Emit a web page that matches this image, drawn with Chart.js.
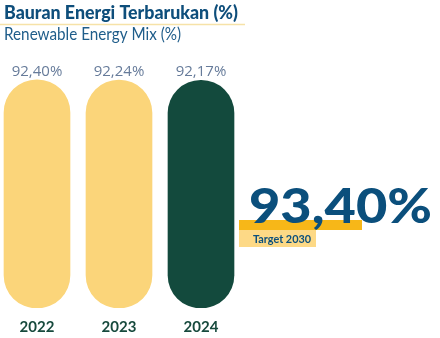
<!DOCTYPE html>
<html>
<head>
<meta charset="utf-8">
<script src="https://cdn.jsdelivr.net/npm/chart.js@4.4.1/dist/chart.umd.min.js"></script>
<style>
  html, body { margin: 0; padding: 0; background: #fff; overflow: hidden; }
  #wrap { width: 444px; height: 338px; position: relative; margin-left: -4px; }
</style>
</head>
<body>
<div id="wrap"><canvas id="mixChart"></canvas></div>
<script>
var years = ['2022', '2023', '2024'];
var mixValues = [92.40, 92.24, 92.17];
var barColors = ['#fbd57a', '#fbd57a', '#134a3d'];
var targetValue = 93.40;
var targetLabel = 'Target 2030';
var titleText = 'Bauran Energi Terbarukan (%)';
var subtitleText = 'Renewable Energy Mix (%)';

function fmt(v) {
    return v.toFixed(2).replace('.', ',') + '%';
}

// draw text squeezed/stretched to a given width
function fitText(c, txt, x, y, w) {
    var m = c.measureText(txt).width;
    c.save();
    c.translate(x, y);
    c.scale(w / m, 1);
    c.fillText(txt, 0, 0);
    c.restore();
}

var decor = {
    id: 'decor',
    afterDatasetsDraw: function(chart) {
        var c = chart.ctx;
        c.save();
        // value labels above bars
        var meta = chart.getDatasetMeta(0);
        c.fillStyle = '#667b9a';
        c.font = '15px "Open Sans"';
        c.textAlign = 'center';
        c.textBaseline = 'alphabetic';
        meta.data.forEach(function(bar, i) {
            c.fillText(fmt(mixValues[i]), bar.x, bar.y - 4);
        });

        // canvas is shifted 4px left of the page
        c.translate(4, 0);

        // title + underline + subtitle
        c.textAlign = 'left';
        c.fillStyle = '#0e4e7b';
        c.font = '900 18px Lato';
        fitText(c, titleText, 4, 19, 234);
        c.strokeStyle = '#f6e2a8';
        c.lineWidth = 1.5;
        c.beginPath();
        c.moveTo(0, 24.5);
        c.lineTo(245, 24.5);
        c.stroke();
        c.fillStyle = '#1f5d8a';
        c.font = '16.5px Lato';
        fitText(c, subtitleText, 4, 39.5, 177);

        // target 2030 block
        c.fillStyle = '#f7b718';
        c.fillRect(239, 220, 123, 10);
        c.fillStyle = '#0b4f7c';
        c.font = '900 47px Lato';
        fitText(c, fmt(targetValue), 249, 223, 183);
        c.fillStyle = '#fdd986';
        c.fillRect(239, 230, 77, 17);
        c.fillStyle = '#0b4f7c';
        c.font = 'bold 11px Lato';
        fitText(c, targetLabel, 253, 243, 58);
        c.restore();
    }
};

var ctx = document.getElementById('mixChart').getContext('2d');
var mixChart = new Chart(ctx, {
    type: 'bar',
    data: {
        labels: years,
        datasets: [{
            data: mixValues,
            backgroundColor: barColors,
            borderRadius: 33,
            borderSkipped: false,
            barThickness: 66
        }]
    },
    options: {
        responsive: true,
        maintainAspectRatio: false,
        animation: false,
        layout: {
            padding: { left: 0, right: 198, top: 61, bottom: 2 }
        },
        plugins: {
            legend: { display: false },
            tooltip: { enabled: false }
        },
        scales: {
            x: {
                grid: { display: false, drawTicks: false },
                border: { display: false },
                afterFit: function(s) { s.height = 28; },
                ticks: {
                    color: '#174a3d',
                    padding: 10,
                    font: { family: 'Lato', size: 15, weight: 'bold' }
                }
            },
            y: {
                display: false,
                min: 0,
                max: 100
            }
        }
    },
    plugins: [decor]
});
</script>
</body>
</html>
